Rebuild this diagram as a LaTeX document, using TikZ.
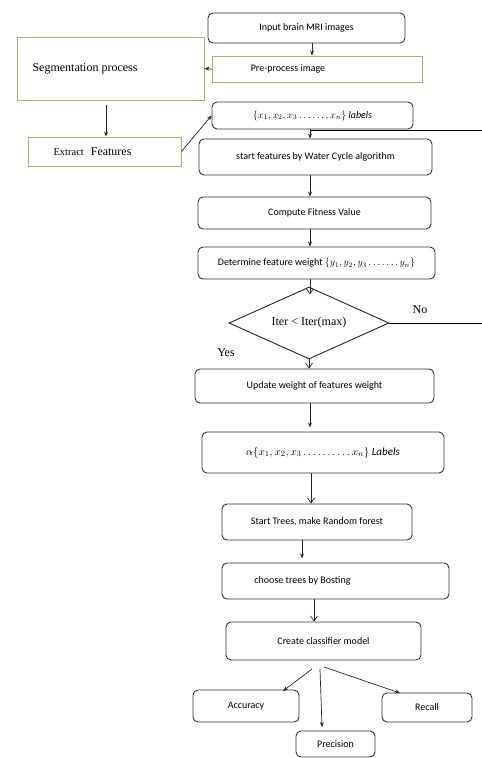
\documentclass[tikz,border=0pt]{standalone}
\usepackage{fontspec}
\setmainfont{Carlito}
\newfontfamily\timesf{Liberation Serif}
\usetikzlibrary{arrows.meta,shapes.geometric,calc}
\definecolor{gbox}{RGB}{150,190,110}
\begin{document}
\begin{tikzpicture}[x=1pt,y=-1pt,
  box/.style={draw=black!80,line width=0.9pt,rounded corners=5pt,inner sep=0pt,font=\fontsize{10}{12}\selectfont},
  gbox/.style={draw=gbox,line width=0.9pt,inner sep=0pt,font=\timesf\fontsize{12}{14}\selectfont},
  arr/.style={draw=black!85,line width=0.7pt,-{Stealth[length=5pt,width=4pt]}},
  varr/.style={draw=black!85,line width=0.7pt,-{Straight Barb[length=5pt,width=7pt]}},
  plainline/.style={draw=black,line width=1pt},
  lab/.style={inner sep=0pt,font=\timesf\fontsize{12}{14}\selectfont}]
\useasboundingbox (0,0) rectangle (482,758);
% boxes
\node[box,minimum width=197pt,minimum height=30pt] (input) at (306.5,28) {Input brain MRI images};
\node[gbox,minimum width=210pt,minimum height=26pt,font=\fontsize{10}{12}\selectfont] (pre) at (317,69) {Pre-process image\rule{58pt}{0pt}};
\node[gbox,minimum width=187pt,minimum height=63pt] (seg) at (110.5,68.5) {\raisebox{-5pt}{Segmentation process}\rule{51pt}{0pt}};
\node[gbox,minimum width=153pt,minimum height=29pt] (extract) at (104.5,151.5) {{\fontsize{10.5}{12}\selectfont Extract}\hspace{7pt}Features\rule{24pt}{0pt}};
\node[box,minimum width=201pt,minimum height=27pt] (labels) at (312.5,115.5) {$\{x_1,x_2,x_3\ldots\ldots,x_n\}\ \mathit{labels}$};
\node[box,minimum width=233pt,minimum height=36pt] (start) at (315.5,157) {start features by Water Cycle algorithm};
\node[box,minimum width=233pt,minimum height=32pt] (compute) at (314.5,213) {Compute Fitness Value};
\node[box,minimum width=237pt,minimum height=32pt] (determine) at (316.5,263) {Determine feature weight $\{y_1,y_2,y_3\ldots\ldots.\,y_n\}$};
\node[draw=black!85,line width=0.9pt,diamond,aspect=2.2,minimum width=160pt,minimum height=72pt,inner sep=0pt,font=\timesf\fontsize{12}{14}\selectfont] (iter) at (309,323) {Iter < Iter(max)};
\node[box,minimum width=239pt,minimum height=34pt] (update) at (314.5,386) {Update weight of features weight};
\node[box,minimum width=242pt,minimum height=41pt,font=\fontsize{11}{13}\selectfont] (alpha) at (323,452.5) {$\alpha\{x_1,x_2,x_3\ldots\ldots\ldots.\,x_n\}\ \mathit{Labels}$};
\node[box,minimum width=190pt,minimum height=36pt] (trees) at (317,522) {Start Trees, make Random forest};
\node[box,minimum width=227pt,minimum height=36pt] (choose) at (335.5,581) {choose trees by Bosting\rule{66pt}{0pt}};
\node[box,minimum width=195pt,minimum height=38pt] (classifier) at (323.5,641) {Create classifier model};
\node[box,minimum width=106pt,minimum height=32pt] (accuracy) at (246,706) {Accuracy};
\node[box,minimum width=90pt,minimum height=29pt] (recall) at (427,707.5) {Recall};
\node[box,minimum width=79pt,minimum height=26pt] (precision) at (335.5,744) {Precision};
% labels
\node[lab] (no) at (420,310) {No};
\node[lab] (yes) at (226,353) {Yes};
% guide coordinates
\coordinate (c312) at (312,0);
\coordinate (c310) at (310,0);
\coordinate (c311) at (311,0);
\coordinate (c302) at (302,0);
\coordinate (c314) at (314,0);
\coordinate (c106) at (106,0);
\coordinate (fb1) at (310,130);
\coordinate (fb2) at (482,130);
\coordinate (no2) at (482,323);
\coordinate (o1) at (312,669);
\coordinate (o2) at (320,669);
\coordinate (o3) at (324,667);
% connectors
\draw[arr] (input.south -| c312) -- (pre.north -| c312);
\draw[arr] (pre.west) -- (seg.east);
\draw[arr] (seg.south -| c106) ++(0,5) -- (extract.north -| c106);
\draw[arr] (extract.east) -- (labels.west);
\draw[plainline] (fb1) -- (fb2);
\draw[arr] (labels.south -| c310) -- (start.north -| c310);
\draw[arr] (start.south -| c310) -- (compute.north -| c310);
\draw[arr] (compute.south -| c310) -- (determine.north -| c310);
\draw[varr] (determine.south -| c310) -- ++(0,15);
\draw[plainline] (iter.east) -- (no2);
\draw[varr] (iter.south) -- (update.north -| iter.south);
\draw[arr] (update.south -| c310) -- ++(0,24);
\draw[varr] (alpha.south -| c311) -- (trees.north -| c311);
\draw[arr] (trees.south -| c302) -- ++(0,18);
\draw[varr] (choose.south -| c314) -- (classifier.north -| c314);
\draw[arr] (o1) -- (283,691);
\draw[arr] (o2) -- (322,727);
\draw[arr] (o3) -- (400,693);
\end{tikzpicture}
\end{document}
